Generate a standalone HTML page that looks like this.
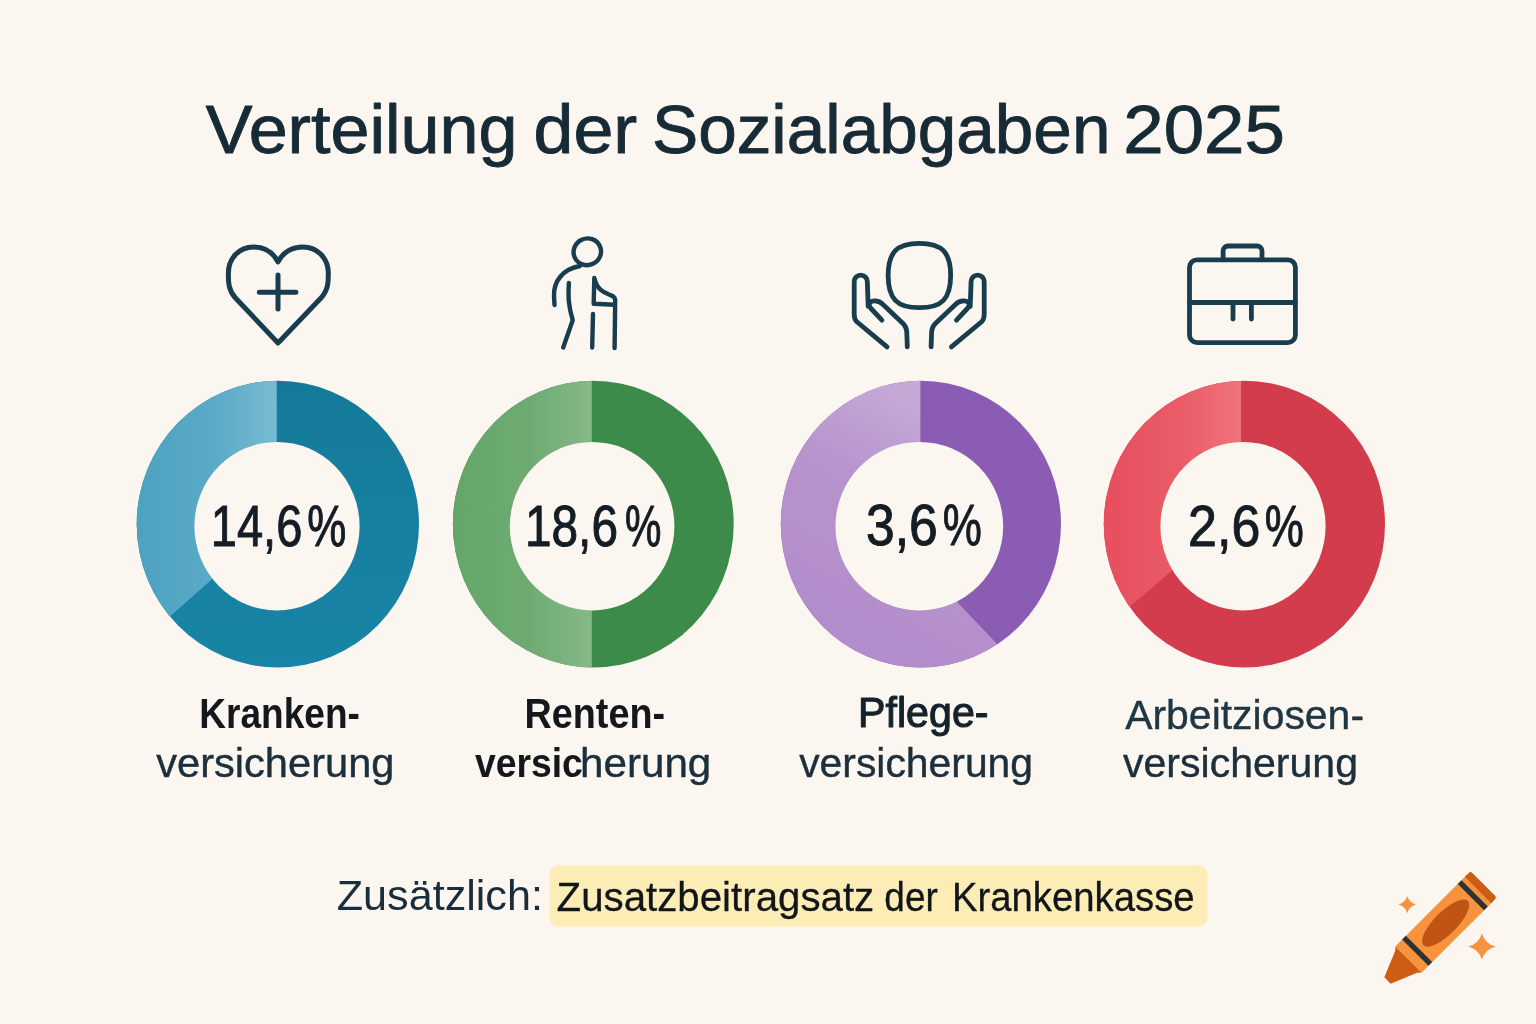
<!DOCTYPE html>
<html lang="de">
<head>
<meta charset="utf-8">
<title>Verteilung der Sozialabgaben 2025</title>
<style>
  html, body { margin: 0; padding: 0; background: #fcf6f0; }
  body { width: 1536px; height: 1024px; overflow: hidden; }
  svg { display: block; }
  text { font-family: "Liberation Sans", sans-serif; }
  .ic { fill: none; stroke: #173d4f; stroke-width: 4.8; stroke-linecap: round; stroke-linejoin: round; }
</style>
</head>
<body>
<svg width="1536" height="1024" viewBox="0 0 1536 1024">
  <rect width="1536" height="1024" fill="#fcf6f0"/>
  <defs>
    <linearGradient id="gL1" gradientUnits="userSpaceOnUse" x1="137" y1="0" x2="277" y2="0"><stop offset="0" stop-color="#4da2c0"/><stop offset="0.55" stop-color="#5aaac6"/><stop offset="1" stop-color="#79bbd3"/></linearGradient>
    <linearGradient id="gD1" gradientUnits="userSpaceOnUse" x1="0" y1="382" x2="0" y2="668"><stop offset="0" stop-color="#157a99"/><stop offset="1" stop-color="#1885a6"/></linearGradient>
    <linearGradient id="gL2" gradientUnits="userSpaceOnUse" x1="453" y1="0" x2="592" y2="0"><stop offset="0" stop-color="#64a669"/><stop offset="0.55" stop-color="#6eab72"/><stop offset="1" stop-color="#86b888"/></linearGradient>
    <linearGradient id="gL3" gradientUnits="userSpaceOnUse" x1="861.7" y1="627.2" x2="969.7" y2="439.3"><stop offset="0" stop-color="#b28dcb"/><stop offset="0.6" stop-color="#b794ce"/><stop offset="1" stop-color="#c4a8d6"/></linearGradient>
    <linearGradient id="gL4" gradientUnits="userSpaceOnUse" x1="1104" y1="0" x2="1241" y2="0"><stop offset="0" stop-color="#e74f5d"/><stop offset="0.55" stop-color="#ea5b68"/><stop offset="1" stop-color="#f0737d"/></linearGradient>
    <clipPath id="c1"><ellipse cx="277.85" cy="524.15" rx="141.15" ry="143.35"/></clipPath>
    <clipPath id="c2"><ellipse cx="593.3" cy="524.15" rx="140.4" ry="143.35"/></clipPath>
    <clipPath id="c3"><ellipse cx="920.9" cy="524.15" rx="140.1" ry="143.35"/></clipPath>
    <clipPath id="c4"><ellipse cx="1244.4" cy="524.15" rx="140.6" ry="143.35"/></clipPath>
  </defs>

  <!-- ICONS -->
  <g class="ic">
    <!-- heart with plus -->
    <g stroke-width="5">
      <path d="M278 262C273 252 264 247 253.5 247C239 247 228.4 258.5 228.4 273C228.4 280 227.6 289.5 235.5 298L278 343L321 298C328.9 289.5 328.3 280 328.3 273C328.3 258.5 317.5 247 303 247C292.5 247 283 252 278 262Z"/>
      <path d="M259.3 292.2H295.9M278 275V308.9"/>
    </g>
    <!-- person with cane -->
    <g stroke-width="4.4">
      <ellipse cx="587.3" cy="251.8" rx="13.8" ry="13.3" transform="rotate(-25 587.3 251.8)"/>
      <path d="M580 266C563 269 553.5 281 554 296L554.5 305"/>
      <path d="M568.9 283C568 297 568.5 306 572.7 320.2L563.2 347.5"/>
      <path d="M594.3 278L593.7 303.7L614.6 304.7M594.6 279C597 289 603 292 609 294.5C613 296 615.2 297 615.2 300L614.6 348"/>
      <path d="M593 314L592.2 347.5"/>
    </g>
    <!-- caring hands -->
    <path d="M919.4 243.3C941.9 243.3 950.65 252.3 950.65 275.5C950.65 298.7 941.9 307.7 919.4 307.7C896.9 307.7 888.15 298.7 888.15 275.5C888.15 252.3 896.9 243.3 919.4 243.3Z"/>
    <path d="M887 346.9L856.5 321.5C854.8 319.5 854.2 317.5 854.2 313.9L854.2 281.6A6.55 6.55 0 0 1 867.3 281.6L868.2 306.3"/>
    <path d="M881.9 320.2L871 308.5C867 304 870 300.5 876 301C879 301.3 881 302.5 883 304.5L903 323.5C906 326.5 906.7 329 906.8 333L907.3 346.9"/>
    <g transform="translate(1838.4 0) scale(-1 1)">
      <path d="M887 346.9L856.5 321.5C854.8 319.5 854.2 317.5 854.2 313.9L854.2 281.6A6.55 6.55 0 0 1 867.3 281.6L868.2 306.3"/>
      <path d="M881.9 320.2L871 308.5C867 304 870 300.5 876 301C879 301.3 881 302.5 883 304.5L903 323.5C906 326.5 906.7 329 906.8 333L907.3 346.9"/>
    </g>
    <!-- briefcase -->
    <rect x="1189.5" y="259.8" width="105.9" height="82.8" rx="7.5"/>
    <path d="M1223.1 259.8V251A5 5 0 0 1 1228.1 246H1257A5 5 0 0 1 1262 251V259.8"/>
    <path d="M1189.5 302.5H1295.4M1233 302.5V319M1251.4 302.5V319"/>
  </g>

  <!-- DONUTS -->
  <g>
    <ellipse cx="277.85" cy="524.15" rx="141.15" ry="143.35" fill="url(#gD1)"/>
    <path clip-path="url(#c1)" fill="url(#gL1)" d="M276.7 360L276.7 521.7L137 645.75L100 645.75L100 360Z"/>
    <ellipse cx="277" cy="526.15" rx="82.6" ry="84.25" fill="#fcf6f0"/>

    <ellipse cx="593.3" cy="524.15" rx="140.4" ry="143.35" fill="#3c8b4a"/>
    <path clip-path="url(#c2)" fill="url(#gL2)" d="M591.8 360L591.8 690L440 690L440 360Z"/>
    <ellipse cx="592.1" cy="526.15" rx="82.3" ry="84.25" fill="#fcf6f0"/>

    <ellipse cx="920.9" cy="524.15" rx="140.1" ry="143.35" fill="#8a5cb4"/>
    <path clip-path="url(#c3)" fill="url(#gL3)" d="M920.4 360L920.4 563.4L1015.5 663.2L1015.5 700L760 700L760 360Z"/>
    <ellipse cx="919.3" cy="526.15" rx="83.85" ry="84.25" fill="#fcf6f0"/>

    <ellipse cx="1244.4" cy="524.15" rx="140.6" ry="143.35" fill="#d33c4c"/>
    <path clip-path="url(#c4)" fill="url(#gL4)" d="M1241 360L1241 510.8L1090.4 640.9L1080 640.9L1080 360Z"/>
    <ellipse cx="1243" cy="526.15" rx="82.6" ry="84.25" fill="#fcf6f0"/>
  </g>

  <!-- FOOTER HIGHLIGHT -->
  <rect x="549.6" y="865.3" width="657.9" height="61.3" rx="9" fill="#fcecb6"/>

  <!-- CRAYON -->
  <g>
    <g transform="translate(1387.5 980.5) rotate(-45)">
      <path fill="#cd5c15" d="M0 -4.5L0 4.5L26.3 15.5L30 18.6L30 -18.6L26.3 -15.5Z"/>
      <rect x="29.5" y="-18.6" width="102" height="37.2" fill="#f7933d"/>
      <rect x="39.3" y="-18.6" width="5.3" height="37.2" fill="#2b3339"/>
      <rect x="118" y="-18.6" width="5.3" height="37.2" fill="#2b3339"/>
      <path fill="#cd5c15" d="M128 -18.6H133.5A2.5 2.5 0 0 1 136 -16.1V16.1A2.5 2.5 0 0 1 133.5 18.6H128Z"/>
      <ellipse cx="81.7" cy="0.5" rx="31.5" ry="11.3" fill="#c05414"/>
    </g>
    <path fill="#f7933d" d="M1407.2 896.0Q1409.1 902.7 1416.0 904.6Q1409.1 906.5 1407.2 913.2Q1405.3 906.5 1398.4 904.6Q1405.3 902.7 1407.2 896.0Z"/>
    <path fill="#f7933d" d="M1481.9 933.4Q1484.9 943.6 1495.5 946.5Q1484.9 949.4 1481.9 959.6Q1478.9 949.4 1468.3000000000002 946.5Q1478.9 943.6 1481.9 933.4Z"/>
  </g>

  <!-- TEXT -->
  <text><tspan x="205.79" y="152.5" font-size="68.5" fill="#162b36" stroke="#162b36" stroke-width="0.9" stroke-linejoin="round" textLength="311.67" lengthAdjust="spacingAndGlyphs">Verteilung</tspan> <tspan x="533.50" y="152.5" font-size="68.5" fill="#162b36" stroke="#162b36" stroke-width="0.9" stroke-linejoin="round" textLength="103.74" lengthAdjust="spacingAndGlyphs">der</tspan> <tspan x="651.95" y="152.5" font-size="68.5" fill="#162b36" stroke="#162b36" stroke-width="0.9" stroke-linejoin="round" textLength="458.52" lengthAdjust="spacingAndGlyphs">Sozialabgaben</tspan> <tspan x="1123.26" y="152.5" font-size="68.5" fill="#162b36" stroke="#162b36" stroke-width="0.9" stroke-linejoin="round" textLength="161.67" lengthAdjust="spacingAndGlyphs">2025</tspan></text>
  <text><tspan x="210.83" y="546.0" font-size="58" fill="#141c24" stroke="#141c24" stroke-width="1.0" stroke-linejoin="round" textLength="91.48" lengthAdjust="spacingAndGlyphs">14,6</tspan><tspan x="307.27" y="546.0" font-size="58" fill="#141c24" stroke="#141c24" stroke-width="1.0" stroke-linejoin="round" textLength="39.06" lengthAdjust="spacingAndGlyphs">%</tspan></text>
  <text><tspan x="525.04" y="546.0" font-size="58" fill="#141c24" stroke="#141c24" stroke-width="1.0" stroke-linejoin="round" textLength="92.90" lengthAdjust="spacingAndGlyphs">18,6</tspan><tspan x="625.07" y="546.0" font-size="58" fill="#141c24" stroke="#141c24" stroke-width="1.0" stroke-linejoin="round" textLength="36.41" lengthAdjust="spacingAndGlyphs">%</tspan></text>
  <text><tspan x="865.90" y="545.4" font-size="58" fill="#141c24" stroke="#141c24" stroke-width="1.0" stroke-linejoin="round" textLength="71.84" lengthAdjust="spacingAndGlyphs">3,6</tspan><tspan x="942.68" y="545.4" font-size="58" fill="#141c24" stroke="#141c24" stroke-width="1.0" stroke-linejoin="round" textLength="39.10" lengthAdjust="spacingAndGlyphs">%</tspan></text>
  <text><tspan x="1188.09" y="546.0" font-size="58" fill="#141c24" stroke="#141c24" stroke-width="1.0" stroke-linejoin="round" textLength="72.23" lengthAdjust="spacingAndGlyphs">2,6</tspan><tspan x="1264.66" y="546.0" font-size="58" fill="#141c24" stroke="#141c24" stroke-width="1.0" stroke-linejoin="round" textLength="39.06" lengthAdjust="spacingAndGlyphs">%</tspan></text>
  <text x="199.32" y="727.7" font-size="42" font-weight="bold" fill="#14181d" textLength="160.53" lengthAdjust="spacingAndGlyphs">Kranken-</text>
  <text x="156.19" y="776.8" font-size="41" fill="#1b2f3c" stroke="#1b2f3c" stroke-width="0.4" stroke-linejoin="round" textLength="238.27" lengthAdjust="spacingAndGlyphs">versicherung</text>
  <text x="524.51" y="727.7" font-size="42" font-weight="bold" fill="#14181d" textLength="140.55" lengthAdjust="spacingAndGlyphs">Renten-</text>
  <text><tspan x="474.97" y="776.8" font-size="41" font-weight="bold" fill="#14181d" textLength="107.88" lengthAdjust="spacingAndGlyphs">versic</tspan><tspan x="580.06" y="776.8" font-size="41" fill="#1b2f3c" stroke="#1b2f3c" stroke-width="0.4" stroke-linejoin="round" textLength="131.28" lengthAdjust="spacingAndGlyphs">herung</tspan></text>
  <text x="858.10" y="727.3" font-size="42" fill="#14222c" stroke="#14222c" stroke-width="1.1" stroke-linejoin="round" textLength="130.37" lengthAdjust="spacingAndGlyphs">Pflege-</text>
  <text x="799.19" y="776.8" font-size="41" fill="#1b2f3c" stroke="#1b2f3c" stroke-width="0.4" stroke-linejoin="round" textLength="233.86" lengthAdjust="spacingAndGlyphs">versicherung</text>
  <text x="1125.19" y="728.9" font-size="41.5" fill="#1f3644" stroke="#1f3644" stroke-width="0.4" stroke-linejoin="round" textLength="238.83" lengthAdjust="spacingAndGlyphs">Arbeitziosen-</text>
  <text x="1122.99" y="776.8" font-size="41" fill="#1b2f3c" stroke="#1b2f3c" stroke-width="0.4" stroke-linejoin="round" textLength="235.05" lengthAdjust="spacingAndGlyphs">versicherung</text>
  <text x="336.76" y="910.3" font-size="42.7" fill="#1a2d3a" textLength="206.17" lengthAdjust="spacingAndGlyphs">Zusätzlich:</text>
  <text><tspan x="556.58" y="911.1" font-size="41.5" fill="#12161a" stroke="#12161a" stroke-width="0.3" stroke-linejoin="round" textLength="317.64" lengthAdjust="spacingAndGlyphs">Zusatzbeitragsatz</tspan> <tspan x="884.35" y="911.1" font-size="41.5" fill="#12161a" stroke="#12161a" stroke-width="0.3" stroke-linejoin="round" textLength="53.49" lengthAdjust="spacingAndGlyphs">der</tspan> <tspan x="951.94" y="911.1" font-size="41.5" fill="#12161a" stroke="#12161a" stroke-width="0.3" stroke-linejoin="round" textLength="242.68" lengthAdjust="spacingAndGlyphs">Krankenkasse</tspan></text>
</svg>
</body>
</html>
